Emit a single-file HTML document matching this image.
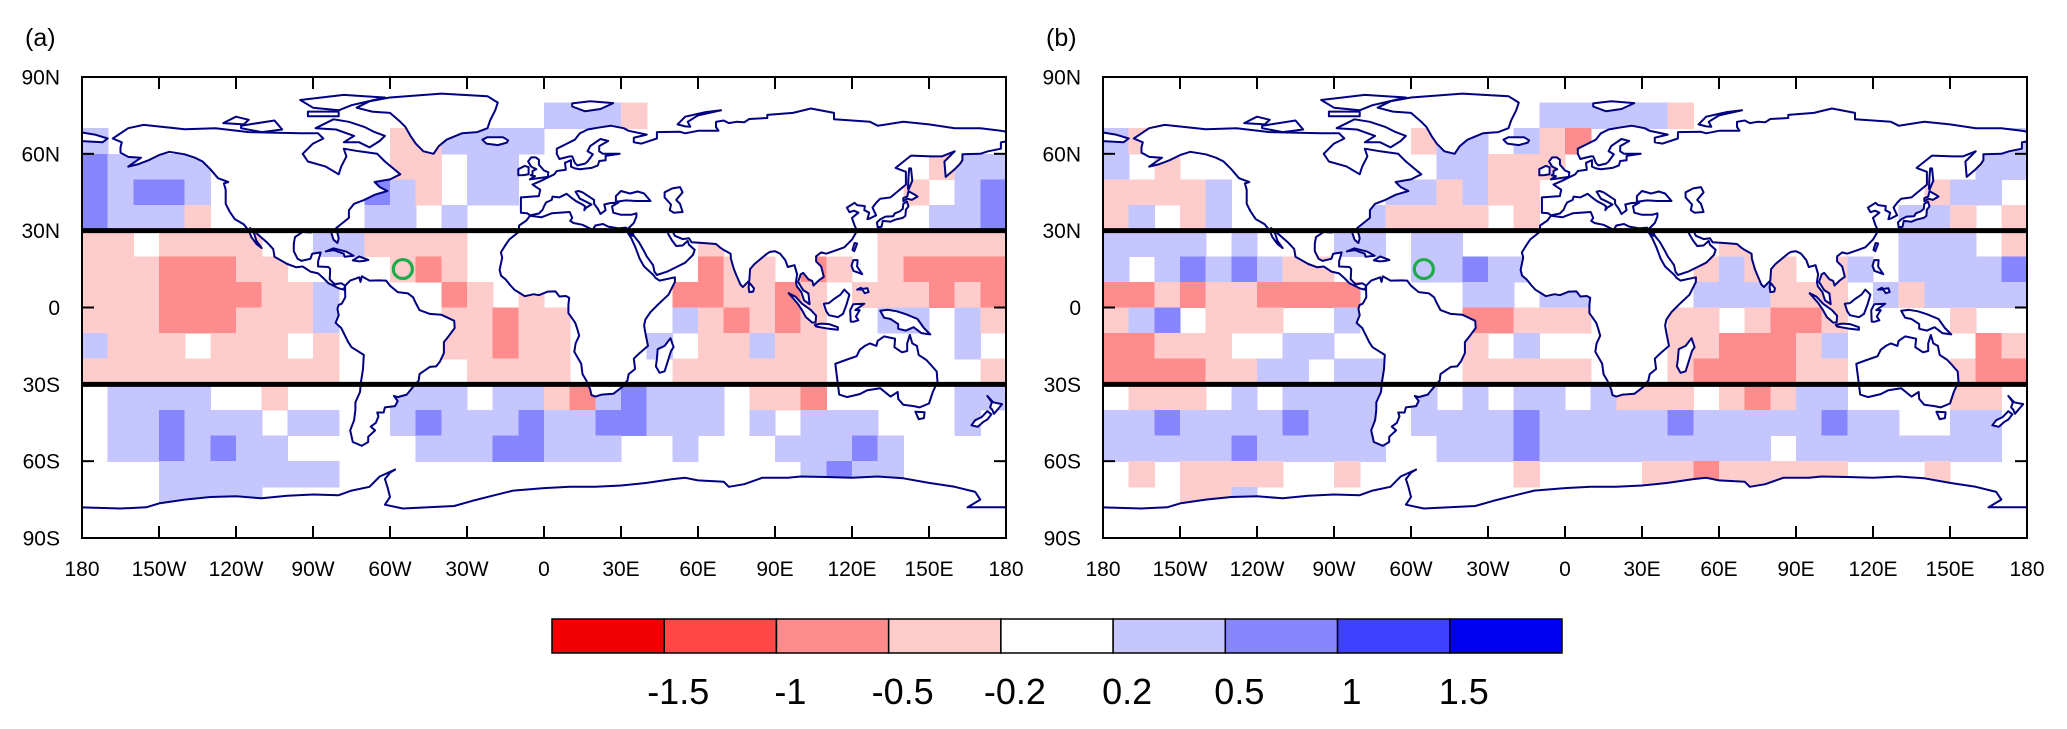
<!DOCTYPE html>
<html><head><meta charset="utf-8"><style>
html,body{margin:0;padding:0;background:#fff;width:2067px;height:729px;overflow:hidden}
svg{display:block;font-family:"Liberation Sans",Arial,sans-serif}
</style></head><body>
<svg id="fig" width="2067" height="729" viewBox="0 0 2067 729" xmlns="http://www.w3.org/2000/svg"></svg>
<script>
// ---- data: level index per 10x10 cell (row 0 = 90N-80N, col 0 = 180-170W); 0..8, 4 = white ----
const levelColors = ["#f00000","#ff4848","#ff8c8c","#ffcccc","#ffffff","#c6c6ff","#8686ff","#4040ff","#0000f0"];
const colorbarLabels = ["-1.5","-1","-0.5","-0.2","0.2","0.5","1","1.5"];
const lonTicks = [-180,-150,-120,-90,-60,-30,0,30,60,90,120,150,180];
const lonTickLabels = ["180","150W","120W","90W","60W","30W","0","30E","60E","90E","120E","150E","180"];
const latTicks = [90,60,30,0,-30,-60,-90];
const latTickLabels = ["90N","60N","30N","0","30S","60S","90S"];
const boxLats = [30,-30];
const markerLon = -55, markerLat = 15;
const fieldA = [
"444444444444444444444444444444444444",
"444444444444444444555344444444444444",
"544444444444335555444444444444444444",
"655554444444334554444444444444444355",
"656654444446534554444444444444443456",
"655534444445545444444444444444444556",
"334333344553333444444444344444433333",
"333222334444323444444444233423432222",
"333222233544442343444442233234333232",
"333222333544443323344445323234455453",
"533343334344443323344454335334444454",
"333333333344444333344443333334444443",
"455554434444555455325655543324444455",
"455655545544565556556655545455544454",
"455656554444455566555445444555654444",
"444555555544444444444444444456554444",
"444555544444444444444444444444444444",
"444444444444444444444444444444444444"];
const fieldB = [
"444444444444444444444444444444444444",
"444444444444444445555534444444444444",
"534444444444355453244444444444444445",
"543444444444455333444444444444444455",
"333354444445535334444444444444443554",
"354354444453333434444444444444455343",
"555545444554554444444444334444455543",
"545656533444556554444443533435455556",
"223233222244445545544445553334535555",
"356433344544442233344433432234444344",
"223334455444443454444433222354444423",
"222233554554443333344432222334444322",
"433345455554545455453334323554444334",
"556555565554555565555565555565544554",
"555556555554455565555555554555555554",
"434333344344444434444332333334443444",
"444335444444444444444444444444444444",
"444444444444444444444444444444444444"];

// ---- coastlines (lon,lat) ----
const land = {
"north-america":[[-168,66],[-162,70],[-156,71.3],[-140,69.6],[-128,70],[-115,68.5],[-95,68],[-88,68],[-86,66],[-90,64],[-94,60],[-92,57],[-85,55],[-80,52],[-79,55],[-77,59],[-78,62],[-72,61],[-65,60],[-62,57],[-56,52],[-60,50],[-66,49],[-64,47],[-61,45.5],[-66,44],[-70,42],[-74,40.5],[-76,38],[-76,35],[-81,31],[-80,27],[-80.5,25.2],[-82,26.5],[-83,29.5],[-86,30.3],[-89,30],[-91,29.3],[-94,29.5],[-97,27.5],[-97.5,25],[-97.5,22],[-96,19],[-94.5,18.2],[-91,19],[-90.3,21],[-87,21.5],[-88,18],[-88,16],[-84,15.8],[-83.3,15],[-83.5,11],[-81.5,9],[-79,9.5],[-77.5,8.5],[-78,7],[-80,7.5],[-81,8],[-84,9.5],[-86,11.5],[-88,13.3],[-91,14],[-94,16],[-96.5,15.7],[-100,17],[-105,19.8],[-105.5,22.8],[-108,25.5],[-112,29],[-114.5,31],[-113,29],[-112,26],[-110,23.2],[-112,24.8],[-114,27.5],[-115,30],[-117,32.5],[-120.5,34.5],[-122.5,37.5],[-124,40.5],[-124,46],[-124.7,48.4],[-123,49],[-127,50.5],[-130,54],[-133,57],[-136,58.5],[-140,59.8],[-146,60.8],[-150,59.5],[-154,57.5],[-158,56],[-162,55],[-157,58.5],[-162,58.8],[-165,60.5],[-165,62.5],[-164.5,64.5]],
"greenland":[[-73,78],[-68,80.5],[-60,82],[-40,83.5],[-22,82.5],[-18,80],[-19,77],[-21,73],[-22,70],[-26,68.5],[-32,68],[-38,65.5],[-41,63],[-43,60],[-47,61],[-50,64],[-52,67],[-54,70.5],[-56,72.5],[-60,76],[-67,76.5]],
"baffin":[[-62,67],[-64,65],[-68,62.5],[-72,64.5],[-78,64.5],[-74,67],[-81,69.5],[-89,70],[-82,73.5],[-76,72.5],[-70,70.5],[-66,68.5]],
"victoria":[[-118,71],[-105,73],[-102,69.5],[-110,68.5],[-118,70]],
"ellesmere":[[-78,83],[-62,82],[-75,79],[-80,77],[-90,78],[-95,81]],
"banks":[[-125,72],[-120,74.5],[-115,73.3],[-117,71.5]],
"devon":[[-92,76.5],[-80,76.5],[-80,74.7],[-92,74.7]],
"eurasia":[[-9,37],[-9,43],[-2,43.5],[-1.5,46],[-4.5,48],[-1,49.5],[2,51],[4,52],[5,53.3],[8.5,53.8],[8.2,56.5],[10.5,57.5],[10.5,55],[12,54.3],[14,54],[18.5,54.5],[21,55.5],[21.5,57.2],[24,57.5],[24,59.2],[29.5,60],[23,60],[21.5,61],[21.5,63],[25,65],[22,65.8],[18,63],[17,61],[19,59.8],[17,57],[16,56.2],[13,55.5],[12,56.5],[11,59],[10,59],[6,58],[5,60],[5,62],[8,63.5],[12,65.5],[14,68],[17,69.5],[21,70.2],[26,71],[31,70],[33,69],[40,67.5],[35,66.3],[35,64.5],[38,64],[44,66],[44,68.5],[53,68.6],[55,68],[60,69],[68,69],[67,70.5],[67,72.5],[70,73],[72,72],[75,72.5],[78,72.3],[80,73.6],[87,74],[87,75.2],[97,76],[104,77.7],[113,76],[113,73.5],[120,73],[127,72.5],[130,71],[140,72.5],[150,71.5],[160,70],[170,70],[178,69],[181,68.5],[181,65],[178,64.5],[178,62],[173,61],[170,60],[163,59.8],[163,57.5],[162,56],[160,54],[156.5,51],[156,57],[160,61],[155,59],[151,59],[143,59.3],[137,54.5],[141,53],[141,48],[138,45.5],[135,43],[131,42.5],[129.5,41],[128,39],[129.4,36],[127,34.8],[126,34.5],[126.7,37],[124.8,38],[125,39.6],[122,40],[121,40.9],[118,39],[119,37.2],[120.8,37.8],[122.5,37],[120,35],[121,32],[122,30],[120,26.5],[117,23.5],[113.5,22.2],[110,21],[108,21.5],[106,20],[106,18],[108,16],[109,12],[107,10.5],[105,8.6],[104.5,10.4],[103,11],[101,13.5],[100,13],[99,10],[100.2,8],[101,6.8],[103,5.5],[103.5,1.3],[101.3,2.8],[100.3,6],[98.5,8.3],[98.2,10],[98.6,13],[97.6,16.5],[95,15.8],[94,18.5],[92,21],[90,22],[88,21.7],[86.9,21],[85,19.5],[82,17],[80.3,15],[80,10.5],[77.5,8],[76.5,9],[75,12.5],[74,15],[72.8,19],[72.7,21],[70,22.5],[68.5,23.5],[67,24.8],[62,25.2],[57.5,25.5],[56.5,27],[54,26.7],[51,28],[50,30],[48,30],[48.5,28.5],[50,26],[51.5,24],[54,24.2],[56,26],[56.5,24.5],[58.7,22.5],[58,20.5],[55,17.5],[52,16],[48,14],[44,12.7],[43,14],[42.5,16.5],[40,20],[39,22],[37,25.5],[35,28],[34.5,29.5],[33,31],[35,33],[36,35.5],[36,36.8],[34,36.2],[30,36.2],[27,37],[26.5,39.5],[29,41],[26,40.8],[23.5,40.2],[24,38],[22,36.5],[21,38.5],[19.5,40.5],[19.5,42],[15,45],[13.5,45.5],[12.3,45.2],[14,42.5],[16,41.5],[18.5,40.2],[16.5,39],[15.7,38],[16,39.5],[15,40.2],[12.5,41.5],[10.5,43],[8.8,44.4],[6,43],[3.3,43.3],[3,42],[0.8,41],[0,39.5],[-0.5,38.2],[-2,36.7],[-5.5,36],[-6.5,36.8]],
"chukotka":[[-181,68.5],[-175,67.5],[-170,66],[-172,64.5],[-181,65]],
"black-sea":[[28,41.3],[28,43.5],[30,45.5],[33.5,44.5],[36.5,45.3],[39,44.5],[41.5,41.6],[36,41.6],[32,41.8]],
"caspian-sea":[[47,45],[50,46.5],[53,47],[54,45],[51.5,42],[53,40.5],[54,37.3],[50.5,37],[49,38],[49.5,40.2],[47,43]],
"africa":[[-5.5,35.8],[-1,35.2],[3,36.8],[10,37.3],[11,35],[10.2,33.8],[11.5,33],[15,32.3],[19,30.3],[20,32],[23,32.6],[25,31.6],[29,30.9],[32,31.2],[34.5,28],[32.5,29.5],[34,27],[35.6,23.5],[37.3,19],[39,16],[42.5,12.8],[43.5,11.5],[45,10.5],[51,11.8],[51,10],[48.5,5],[45,1.7],[41.5,-1.8],[39.5,-4.7],[39,-7],[39.5,-10],[40.5,-15],[37,-18],[35,-20],[35.5,-24],[33,-26],[32.5,-28.5],[30.5,-31],[27,-33.7],[22.5,-34],[20,-34.8],[18.5,-34.2],[18,-32],[16.5,-28.5],[15,-26],[14.5,-22],[11.8,-17.3],[12.3,-14],[13.7,-11],[13,-8.5],[12.2,-6],[9.5,-2.2],[9.5,1],[9.8,3.8],[8.5,4.5],[6,4.3],[4.5,6.3],[1.5,6.2],[-2,4.8],[-4,5.2],[-7.5,4.4],[-9.5,5.7],[-11.5,6.9],[-13.2,8.8],[-15,11],[-16.7,12.4],[-17.3,14.7],[-16.3,19.5],[-16.8,21.5],[-14.8,24.7],[-13.5,26.6],[-9.8,29.5],[-9.7,32],[-6.8,34]],
"madagascar":[[49.3,-12],[50.5,-15.5],[49.5,-17],[47,-24.9],[45,-25.5],[43.6,-23],[44,-20],[44.3,-16.3],[47,-15]],
"south-america":[[-77.5,8.5],[-75.5,10.5],[-72,11.8],[-71.5,10],[-71,12.2],[-68,10.5],[-64,10.6],[-61.5,10.5],[-60,8.5],[-57,6],[-53,5.5],[-51,4],[-50,1.8],[-48.5,-1],[-44.5,-2.5],[-40,-2.8],[-35,-5.2],[-34.8,-8],[-37,-11],[-39,-13.5],[-39,-17.8],[-40.5,-21],[-42,-23],[-44.5,-23.2],[-48.5,-26],[-48.8,-28.5],[-51,-31],[-53.5,-34],[-57,-35],[-58.5,-34.5],[-57,-36.5],[-58,-38.5],[-62,-39],[-62.5,-41],[-65,-41],[-64.5,-42.5],[-65.5,-45],[-67.5,-46.5],[-65.8,-48],[-68.5,-50.5],[-68.5,-52.5],[-71,-54],[-74.5,-52.5],[-75.5,-48],[-74,-44],[-73.5,-40],[-73.5,-37],[-71.7,-33],[-71.3,-29],[-70.5,-24],[-70.2,-18.5],[-75,-15.5],[-76.3,-13.5],[-79,-8],[-81.2,-6],[-80,-3],[-80.5,-0.5],[-80,1],[-78.8,1.5],[-77.4,4],[-77.5,6.5]],
"australia":[[113.5,-22],[114,-26],[115,-34],[118,-35],[123,-33.8],[126,-32.3],[131,-31.5],[135,-34.8],[137.8,-33],[138,-35.7],[140,-38],[144,-38.5],[146.3,-39],[150,-37.5],[151.5,-33],[153.3,-29],[153,-25],[150.8,-22.5],[149,-20.5],[146,-18.5],[145.3,-15],[143.5,-14],[142.5,-10.7],[141.5,-14],[141.5,-17],[139.5,-17.5],[136.5,-15.5],[136.8,-12.2],[132.5,-11.3],[130,-13],[129.5,-15],[127,-14],[125,-15],[123,-16.5],[121.8,-19],[117,-20.7]],
"tasmania":[[144.7,-40.7],[148.3,-40.9],[148,-43.2],[146,-43.6]],
"nz-north":[[172.7,-34.5],[175,-37],[178.5,-37.7],[177,-39.5],[175.3,-41.5],[174.6,-39.8],[173.8,-39],[174.5,-37]],
"nz-south":[[172.7,-40.5],[174.3,-41.7],[172.8,-43.7],[171,-44.8],[169,-46.6],[166.5,-46],[168,-44],[170.5,-42.8]],
"honshu":[[130,31.3],[131.5,31.5],[132,33.8],[135,33.5],[136.8,34.3],[139.8,35],[140.8,35.8],[141,38.2],[142,39.5],[141.4,41.4],[140,40.5],[139.8,38.5],[138.5,37.5],[136.7,36.8],[136,35.6],[133,35.5],[131,34.4],[129.7,33.2]],
"hokkaido":[[140,41.5],[141.5,42.5],[143.3,42],[145.5,43.3],[144.5,44],[142,45.4],[141.5,43.3],[140,42.7]],
"sakhalin":[[142,46],[143.5,49.5],[143,54.3],[142.3,54.3],[142,51],[141.8,46.5]],
"luzon":[[120.5,18.5],[122.2,18.5],[122,16],[124,13],[122,13.8],[120.6,14.3],[119.8,16.3]],
"mindanao":[[122,7],[126,7.5],[126.5,6],[125,5.6],[123.5,7.7]],
"taiwan":[[120.2,22.5],[121,25.2],[122,25],[120.9,22]],
"sumatra":[[95.3,5.6],[98,4.2],[100.5,1.5],[104,-1],[106,-3.2],[105.8,-5.8],[104.5,-5.9],[102,-3.7],[100.5,-1],[98.7,1.7]],
"java":[[105.5,-6.8],[108,-6.3],[111,-6.5],[114.5,-7.7],[114.5,-8.7],[111,-8.3],[106,-7.4]],
"borneo":[[109,1.5],[110,-1.5],[111,-3],[114.5,-3.8],[116.5,-2.5],[117.8,1],[119,5],[117,7],[115.5,5],[113,3.3],[111,1.7]],
"sulawesi":[[119.5,-5.5],[119.3,-1],[120.5,1.3],[124.8,1.5],[121.3,-1],[123,-1],[121.5,-3.5],[122.5,-5],[120.5,-5.6]],
"new-guinea":[[131,-1.3],[134,-0.9],[137.5,-1.5],[141,-2.6],[145.5,-4.5],[148,-8],[150.5,-10.5],[147,-10],[144,-7.7],[141,-9],[138,-8.3],[138,-6.5],[135,-4.5],[132.5,-4]],
"sri-lanka":[[80,9.7],[81.8,7.5],[81.5,6.2],[80,6],[79.7,8]],
"great-britain":[[-5.5,50],[1.5,51],[1.7,52.8],[0,53.5],[-2,55.8],[-2,57.7],[-3.2,58.6],[-5,58.6],[-6.2,57],[-5,55],[-3,54],[-4.5,53.3],[-4.5,52],[-5.2,51.6],[-3.5,51.3]],
"ireland":[[-6,52],[-6,54.8],[-7.5,55.3],[-10,54],[-10,51.6],[-8,51.7]],
"iceland":[[-22.5,64],[-24,65.5],[-22,66.5],[-16,66.5],[-14,65.3],[-14.5,64.4],[-18,63.4]],
"cuba":[[-85,21.9],[-82,23.1],[-77,21.8],[-74.2,20.2],[-77.7,19.8],[-78,21],[-82,22.4]],
"hispaniola":[[-74.5,18.4],[-72,19.9],[-68.4,18.6],[-70,18.2],[-72,18]],
"novaya-zemlya":[[52,71.5],[55,70.7],[57,70.6],[56,72.5],[60,75],[69,77],[63,76.3],[55,74.5]],
"svalbard":[[11,78.5],[16,76.6],[22,77.5],[27,79.8],[18,80.5],[11,79.7]],
"antarctica":[[-181,-78],[-165,-78.5],[-155,-78],[-150,-76.5],[-140,-75],[-130,-74],[-120,-73.7],[-110,-74.5],[-100,-73.5],[-90,-73],[-80,-73.3],[-75,-71.5],[-68,-70],[-64,-66],[-58,-63.3],[-60,-64.5],[-62,-67],[-61,-70],[-60,-74],[-62,-77],[-55,-78.5],[-45,-78],[-35,-77.5],[-28,-75.5],[-20,-73.5],[-12,-71.5],[0,-70.5],[10,-70],[20,-70],[30,-69.5],[40,-68.5],[50,-67],[55,-66.5],[60,-67.5],[70,-68],[72,-70],[78,-69],[85,-66.5],[95,-66.5],[100,-66],[110,-66.2],[120,-66.5],[130,-66],[140,-66.7],[150,-68.5],[160,-70],[168,-72],[170,-75],[165,-78],[181,-78],[181,-92],[-181,-92]]
};

const NS="http://www.w3.org/2000/svg";
const svg=document.getElementById('fig');
function mk(tag,attrs,parent){const e=document.createElementNS(NS,tag);for(const k in attrs)e.setAttribute(k,attrs[k]);(parent||svg).appendChild(e);return e;}

function drawPanel(px,py,pw,ph,field,label,pname){
  const xS=lon=>px+(lon+180)/360*pw;
  const yS=lat=>py+(90-lat)/180*ph;
  const g=mk('g',{});
  
  
  const clipId='clip-'+pname;
  const cp=mk('clipPath',{id:clipId},g);
  mk('rect',{x:px,y:py,width:pw,height:ph},cp);
  const inner=mk('g',{'clip-path':'url(#'+clipId+')'},g);
  
  
  const cells=mk('g',{'shape-rendering':'crispEdges'},inner);
  
  
  field.forEach((row,r)=>{
    const lat0=90-r*10, lat1=lat0-10;
    for(let c=0;c<row.length;c++){
      const v=+row[c]; if(v===4) continue;
      const lon0=-180+c*10;
      const x0=xS(lon0), x1=xS(lon0+10), y0=yS(lat0), y1=yS(lat1);
      const rc=mk('rect',{x:x0.toFixed(2),y:y0.toFixed(2),width:(x1-x0+0.6).toFixed(2),height:(y1-y0+0.6).toFixed(2),fill:levelColors[v]},cells);
      
      
    }
  });
  for(const name in land){
    const d=land[name].map((p,i)=>(i?'L':'M')+xS(p[0]).toFixed(1)+','+yS(p[1]).toFixed(1)).join('')+'Z';
    const p=mk('path',{d:d,fill:'#ffffff',stroke:'#000080','stroke-width':2,'stroke-linejoin':'round'},inner);
    
    
  }
  boxLats.forEach(lat=>{
    const l=mk('line',{x1:px,x2:px+pw,y1:yS(lat),y2:yS(lat),stroke:'#000','stroke-width':5},inner);
    
    
  });
  const ci=mk('circle',{cx:xS(markerLon),cy:yS(markerLat),r:9.5,fill:'none',stroke:'#1fab4a','stroke-width':3.2},inner);
  
  
  const fr=mk('rect',{x:px,y:py,width:pw,height:ph,fill:'none',stroke:'#000','stroke-width':2},g);
  
  
  lonTicks.forEach((lon,i)=>{
    const x=xS(lon);
    const t1=mk('line',{x1:x,x2:x,y1:py+ph,y2:py+ph-12,stroke:'#000','stroke-width':2},g);
    
    
    const t2=mk('line',{x1:x,x2:x,y1:py,y2:py+12,stroke:'#000','stroke-width':2},g);
    
    
    const tx=mk('text',{x:x,y:py+ph+38,'text-anchor':'middle','font-size':21,fill:'#000'},g);
    tx.textContent=lonTickLabels[i];
    
    
  });
  latTicks.forEach((lat,i)=>{
    const y=yS(lat);
    const t1=mk('line',{x1:px,x2:px+12,y1:y,y2:y,stroke:'#000','stroke-width':2},g);
    
    
    const t2=mk('line',{x1:px+pw,x2:px+pw-12,y1:y,y2:y,stroke:'#000','stroke-width':2},g);
    
    
    const tx=mk('text',{x:px-22,y:y+7.5,'text-anchor':'end','font-size':21,fill:'#000'},g);
    tx.textContent=latTickLabels[i];
    
    
  });
  const pl=mk('text',{x:px-57,y:46,'font-size':25,fill:'#000'},g);
  pl.textContent=label;
  
  
}
drawPanel(82,77,924,461,fieldA,'(a)','panel-a');
drawPanel(1103,77,924,461,fieldB,'(b)','panel-b');

// colorbar
const cb=mk('g',{});


const cbX=552, cbW=1010, cbY=619, cbH=34, bw=cbW/levelColors.length;
levelColors.forEach((c,i)=>{
  const r=mk('rect',{x:cbX+i*bw,y:cbY,width:bw,height:cbH,fill:c,stroke:'#000','stroke-width':1.5},cb);
  
  
});
colorbarLabels.forEach((t,i)=>{
  const tx=mk('text',{x:cbX+(i+1)*bw+14,y:704,'text-anchor':'middle','font-size':36,fill:'#000'},cb);
  tx.textContent=t;
  
  
});
</script>
</body></html>
